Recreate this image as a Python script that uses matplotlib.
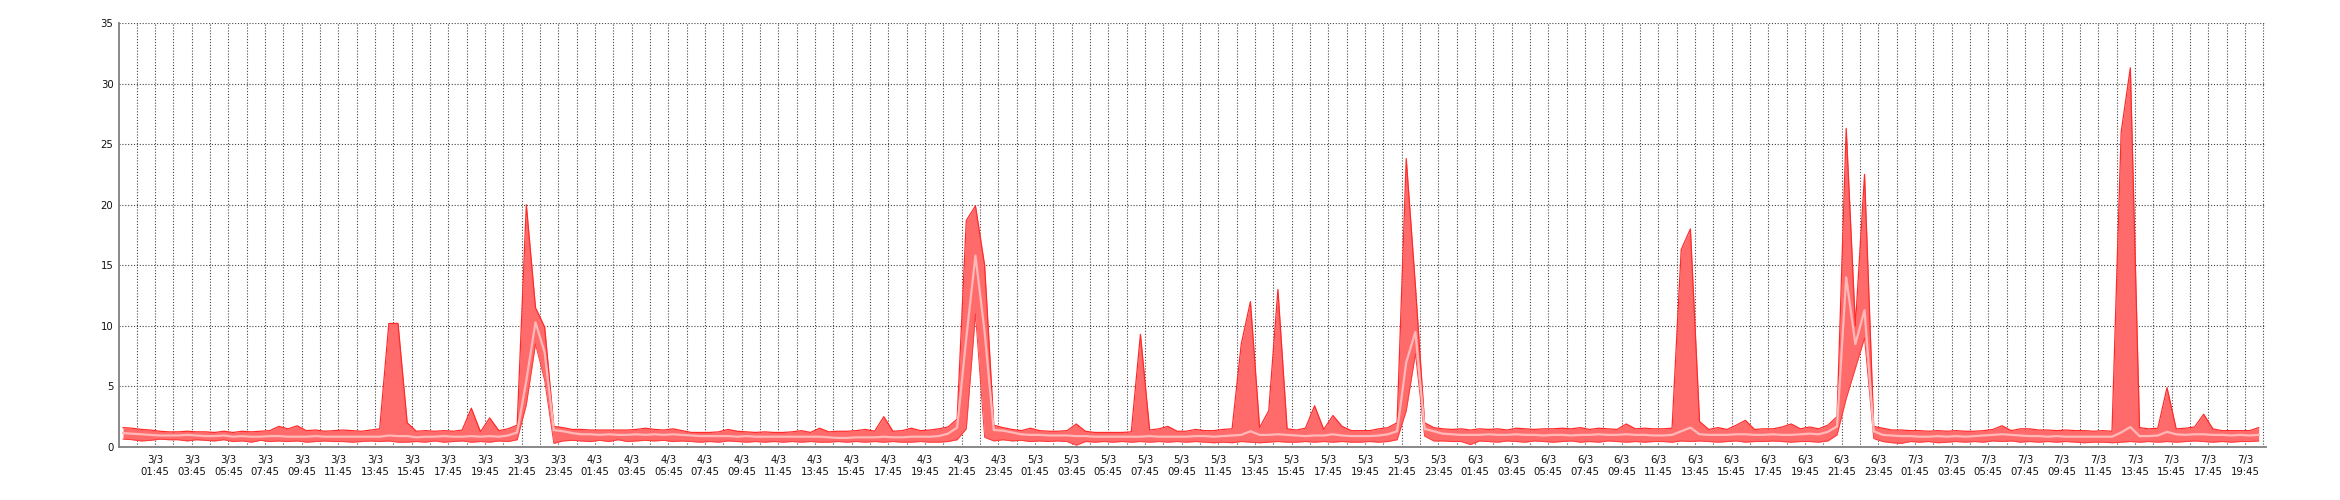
import numpy as np
import pandas as pd
import matplotlib
matplotlib.use("Agg")
import matplotlib.pyplot as plt

# ---- data: 30-minute samples from 3/3 00:00, max / average / min ----
max_d3 = [1.6, 1.55, 1.45, 1.4, 1.3, 1.25, 1.25, 1.3, 1.25, 1.25, 1.2, 1.3, 1.2, 1.3, 1.25, 1.3, 1.35, 1.7, 1.5, 1.75, 1.35, 1.4, 1.3, 1.35,
          1.4, 1.35, 1.3, 1.4, 1.5, 10.2, 10.2, 2.0, 1.3, 1.35, 1.3, 1.35, 1.3, 1.4, 3.2, 1.25, 2.4, 1.35, 1.5, 1.8, 20.0, 11.5, 9.9, 1.7]
avg_d3 = [1.15, 1.1, 1.05, 1.0, 0.95, 0.95, 0.95, 1.0, 0.95, 0.9, 0.9, 0.95, 0.85, 0.9, 0.85, 0.85, 0.9, 0.9, 0.85, 0.85, 0.85, 0.9, 0.85, 0.85,
          0.85, 0.85, 0.85, 0.85, 0.85, 0.95, 0.9, 0.9, 0.8, 0.85, 0.85, 0.9, 0.85, 0.85, 0.9, 0.85, 0.9, 0.85, 0.95, 1.2, 5.5, 10.3, 7.8, 1.4]
min_d3 = [0.65, 0.6, 0.5, 0.55, 0.65, 0.6, 0.6, 0.5, 0.6, 0.55, 0.5, 0.6, 0.45, 0.5, 0.4, 0.55, 0.45, 0.5, 0.45, 0.5, 0.4, 0.45, 0.5, 0.45,
          0.45, 0.4, 0.45, 0.5, 0.45, 0.5, 0.4, 0.4, 0.45, 0.4, 0.5, 0.4, 0.45, 0.5, 0.4, 0.45, 0.4, 0.5, 0.45, 0.6, 3.5, 8.5, 5.5, 0.3]

max_d4 = [1.6, 1.45, 1.45, 1.4, 1.4, 1.4, 1.4, 1.4, 1.45, 1.55, 1.45, 1.4, 1.5, 1.35, 1.2, 1.2, 1.2, 1.25, 1.45, 1.3, 1.25, 1.2, 1.25, 1.2,
          1.2, 1.25, 1.35, 1.2, 1.55, 1.25, 1.3, 1.3, 1.35, 1.45, 1.3, 2.5, 1.3, 1.35, 1.55, 1.35, 1.4, 1.5, 1.65, 2.3, 18.7, 19.9, 15.0, 1.8]
avg_d4 = [1.3, 1.15, 1.05, 1.05, 1.0, 1.05, 1.0, 1.0, 1.05, 1.0, 1.05, 1.0, 1.05, 1.0, 0.95, 0.9, 0.9, 0.9, 0.9, 0.85, 0.9, 0.85, 0.85, 0.85,
          0.85, 0.85, 0.85, 0.85, 0.85, 0.8, 0.75, 0.75, 0.8, 0.8, 0.8, 0.85, 0.8, 0.8, 0.85, 0.85, 0.85, 0.9, 1.1, 1.6, 9.0, 15.8, 9.5, 1.4]
min_d4 = [0.5, 0.55, 0.5, 0.45, 0.55, 0.45, 0.6, 0.45, 0.5, 0.55, 0.5, 0.55, 0.45, 0.5, 0.45, 0.4, 0.45, 0.4, 0.5, 0.45, 0.4, 0.45, 0.4, 0.45,
          0.4, 0.45, 0.4, 0.45, 0.4, 0.4, 0.45, 0.4, 0.45, 0.4, 0.45, 0.4, 0.45, 0.4, 0.4, 0.45, 0.4, 0.4, 0.45, 0.6, 1.5, 11.0, 0.8, 0.5]

max_d5 = [1.6, 1.45, 1.35, 1.55, 1.35, 1.3, 1.3, 1.35, 1.9, 1.3, 1.2, 1.2, 1.2, 1.2, 1.25, 9.3, 1.4, 1.5, 1.7, 1.3, 1.3, 1.45, 1.35, 1.35,
          1.45, 1.5, 8.5, 12.0, 1.6, 3.0, 13.0, 1.5, 1.4, 1.55, 3.4, 1.45, 2.6, 1.7, 1.35, 1.35, 1.35, 1.5, 1.6, 2.0, 23.8, 13.3, 2.0, 1.6]
avg_d5 = [1.35, 1.2, 1.05, 1.0, 1.0, 0.95, 0.95, 0.95, 0.9, 0.9, 0.85, 0.85, 0.85, 0.85, 0.85, 0.85, 0.9, 0.85, 0.85, 0.85, 0.85, 0.9, 0.9, 0.85,
          0.9, 0.95, 1.0, 1.3, 1.0, 1.0, 1.05, 1.0, 0.95, 0.9, 0.95, 0.95, 1.05, 0.95, 0.9, 0.9, 0.9, 0.95, 1.05, 1.3, 7.0, 9.5, 1.5, 1.3]
min_d5 = [0.6, 0.5, 0.55, 0.45, 0.5, 0.45, 0.5, 0.45, 0.15, 0.45, 0.4, 0.45, 0.4, 0.45, 0.4, 0.45, 0.4, 0.45, 0.4, 0.45, 0.4, 0.45, 0.4, 0.35,
          0.4, 0.35, 0.45, 0.4, 0.35, 0.4, 0.45, 0.4, 0.4, 0.45, 0.4, 0.45, 0.4, 0.45, 0.4, 0.4, 0.45, 0.4, 0.45, 0.6, 3.0, 7.7, 0.9, 0.5]

max_d6 = [1.5, 1.45, 1.5, 1.4, 1.5, 1.45, 1.5, 1.4, 1.55, 1.5, 1.45, 1.5, 1.5, 1.55, 1.5, 1.6, 1.45, 1.55, 1.5, 1.45, 1.9, 1.5, 1.55, 1.5,
          1.5, 1.55, 16.3, 18.0, 2.1, 1.45, 1.6, 1.45, 1.8, 2.2, 1.45, 1.5, 1.5, 1.65, 1.9, 1.5, 1.65, 1.5, 1.8, 2.5, 26.3, 10.0, 22.5, 1.7]
avg_d6 = [1.1, 1.05, 1.0, 1.0, 1.0, 1.05, 1.0, 1.0, 1.05, 1.0, 1.0, 0.95, 1.0, 1.0, 0.95, 1.0, 1.0, 1.05, 1.0, 1.0, 1.05, 1.0, 1.0, 0.95,
          0.95, 1.0, 1.3, 1.6, 1.05, 1.0, 1.0, 1.0, 1.05, 1.05, 1.0, 1.0, 1.05, 1.0, 1.0, 1.05, 1.1, 1.05, 1.25, 1.7, 14.0, 8.5, 11.3, 1.3]
min_d6 = [0.5, 0.45, 0.45, 0.2, 0.5, 0.45, 0.4, 0.5, 0.45, 0.4, 0.5, 0.45, 0.4, 0.45, 0.5, 0.4, 0.45, 0.4, 0.5, 0.45, 0.4, 0.45, 0.4, 0.45,
          0.45, 0.4, 0.5, 0.45, 0.5, 0.45, 0.4, 0.45, 0.5, 0.4, 0.45, 0.45, 0.5, 0.45, 0.4, 0.45, 0.45, 0.4, 0.5, 1.0, 4.0, 6.5, 9.0, 0.7]

max_d7 = [1.55, 1.4, 1.4, 1.35, 1.35, 1.3, 1.35, 1.3, 1.35, 1.3, 1.3, 1.35, 1.45, 1.75, 1.35, 1.5, 1.5, 1.4, 1.4, 1.35, 1.4, 1.35, 1.35, 1.3,
          1.35, 1.3, 26.0, 31.3, 1.6, 1.5, 1.55, 4.9, 1.5, 1.55, 1.65, 2.7, 1.5, 1.35, 1.35, 1.35, 1.35, 1.6]
avg_d7 = [1.0, 0.95, 0.9, 0.9, 0.85, 0.85, 0.9, 0.85, 0.9, 0.85, 0.9, 0.95, 1.0, 1.05, 1.0, 0.95, 0.9, 0.9, 0.85, 0.9, 0.85, 0.85, 0.85, 0.85,
          0.85, 0.85, 1.2, 1.65, 0.9, 0.9, 0.95, 1.25, 1.05, 1.0, 1.05, 1.05, 1.0, 1.0, 0.95, 1.0, 0.95, 1.0]
min_d7 = [0.45, 0.35, 0.3, 0.45, 0.4, 0.45, 0.35, 0.4, 0.45, 0.4, 0.45, 0.4, 0.5, 0.45, 0.5, 0.4, 0.45, 0.4, 0.45, 0.4, 0.45, 0.4, 0.35, 0.4,
          0.4, 0.35, 0.4, 0.45, 0.4, 0.45, 0.4, 0.45, 0.4, 0.45, 0.5, 0.45, 0.4, 0.45, 0.4, 0.45, 0.45, 0.5]

series_start = "2023-03-03 00:00"
sample_step = "30min"
tick_start, tick_end = "2023-03-03 01:45", "2023-03-07 19:45"
grid_start, grid_end = "2023-03-03 00:45", "2023-03-07 20:45"
y_ticks = [0, 5, 10, 15, 20, 25, 30, 35]

vmax = np.array(max_d3 + max_d4 + max_d5 + max_d6 + max_d7)
vavg = np.array(avg_d3 + avg_d4 + avg_d5 + avg_d6 + avg_d7)
vmin = np.array(min_d3 + min_d4 + min_d5 + min_d6 + min_d7)
times = pd.date_range(series_start, periods=len(vmax), freq=sample_step)

t0 = pd.Timestamp(series_start)
def hours(ts):
    return (pd.DatetimeIndex(ts) - t0) / pd.Timedelta(hours=1)

x = np.asarray(hours(times))
tick_times = pd.date_range(tick_start, tick_end, freq="2h")
tick_pos = np.asarray(hours(tick_times))
tick_labels = [f"{t.day}/{t.month}\n{t:%H:%M}" for t in tick_times]
grid_pos = np.asarray(hours(pd.date_range(grid_start, grid_end, freq="1h")))

fig = plt.figure(figsize=(23.4, 5.0), dpi=100)
ax = fig.add_axes([119 / 2340, 1 - 447 / 500, (2266 - 119) / 2340, (447 - 23) / 500])

ax.fill_between(x, vmin, vmax, color="#FF6B6B", lw=0, zorder=3)
ax.plot(x, vmax, color="#FF2B2B", lw=0.9, zorder=4)
ax.plot(x, vmin, color="#FF3B3B", lw=0.7, zorder=4)
ax.plot(x, vavg, color="#FFB8B8", lw=1.6, zorder=5)

ax.set_xlim(-0.22, 116.9)
ax.set_ylim(0, 35)
ax.set_yticks(y_ticks)
ax.set_yticklabels([str(v) for v in y_ticks], fontsize=7.3, color="#111111")
ax.set_xticks(tick_pos)
ax.set_xticklabels(tick_labels, fontsize=7.3, color="#111111", linespacing=1.25)
ax.set_xticks(grid_pos, minor=True)
ax.tick_params(axis="both", which="both", length=0)
ax.tick_params(axis="x", pad=6)
ax.tick_params(axis="y", pad=4)

grid_style = dict(color="#444444", lw=0.8, linestyle=(0, (1, 1.6)))
ax.grid(False)
for gx in grid_pos:
    ax.axvline(gx, zorder=1, **grid_style)
for gy in y_ticks[1:]:
    ax.axhline(gy, zorder=1, **grid_style)

for side in ("top", "right"):
    ax.spines[side].set_visible(False)
for side in ("left", "bottom"):
    ax.spines[side].set_color("#808080")
    ax.spines[side].set_linewidth(1.3)
    ax.spines[side].set_zorder(6)

fig.savefig("out.png", dpi=100, facecolor="white")
